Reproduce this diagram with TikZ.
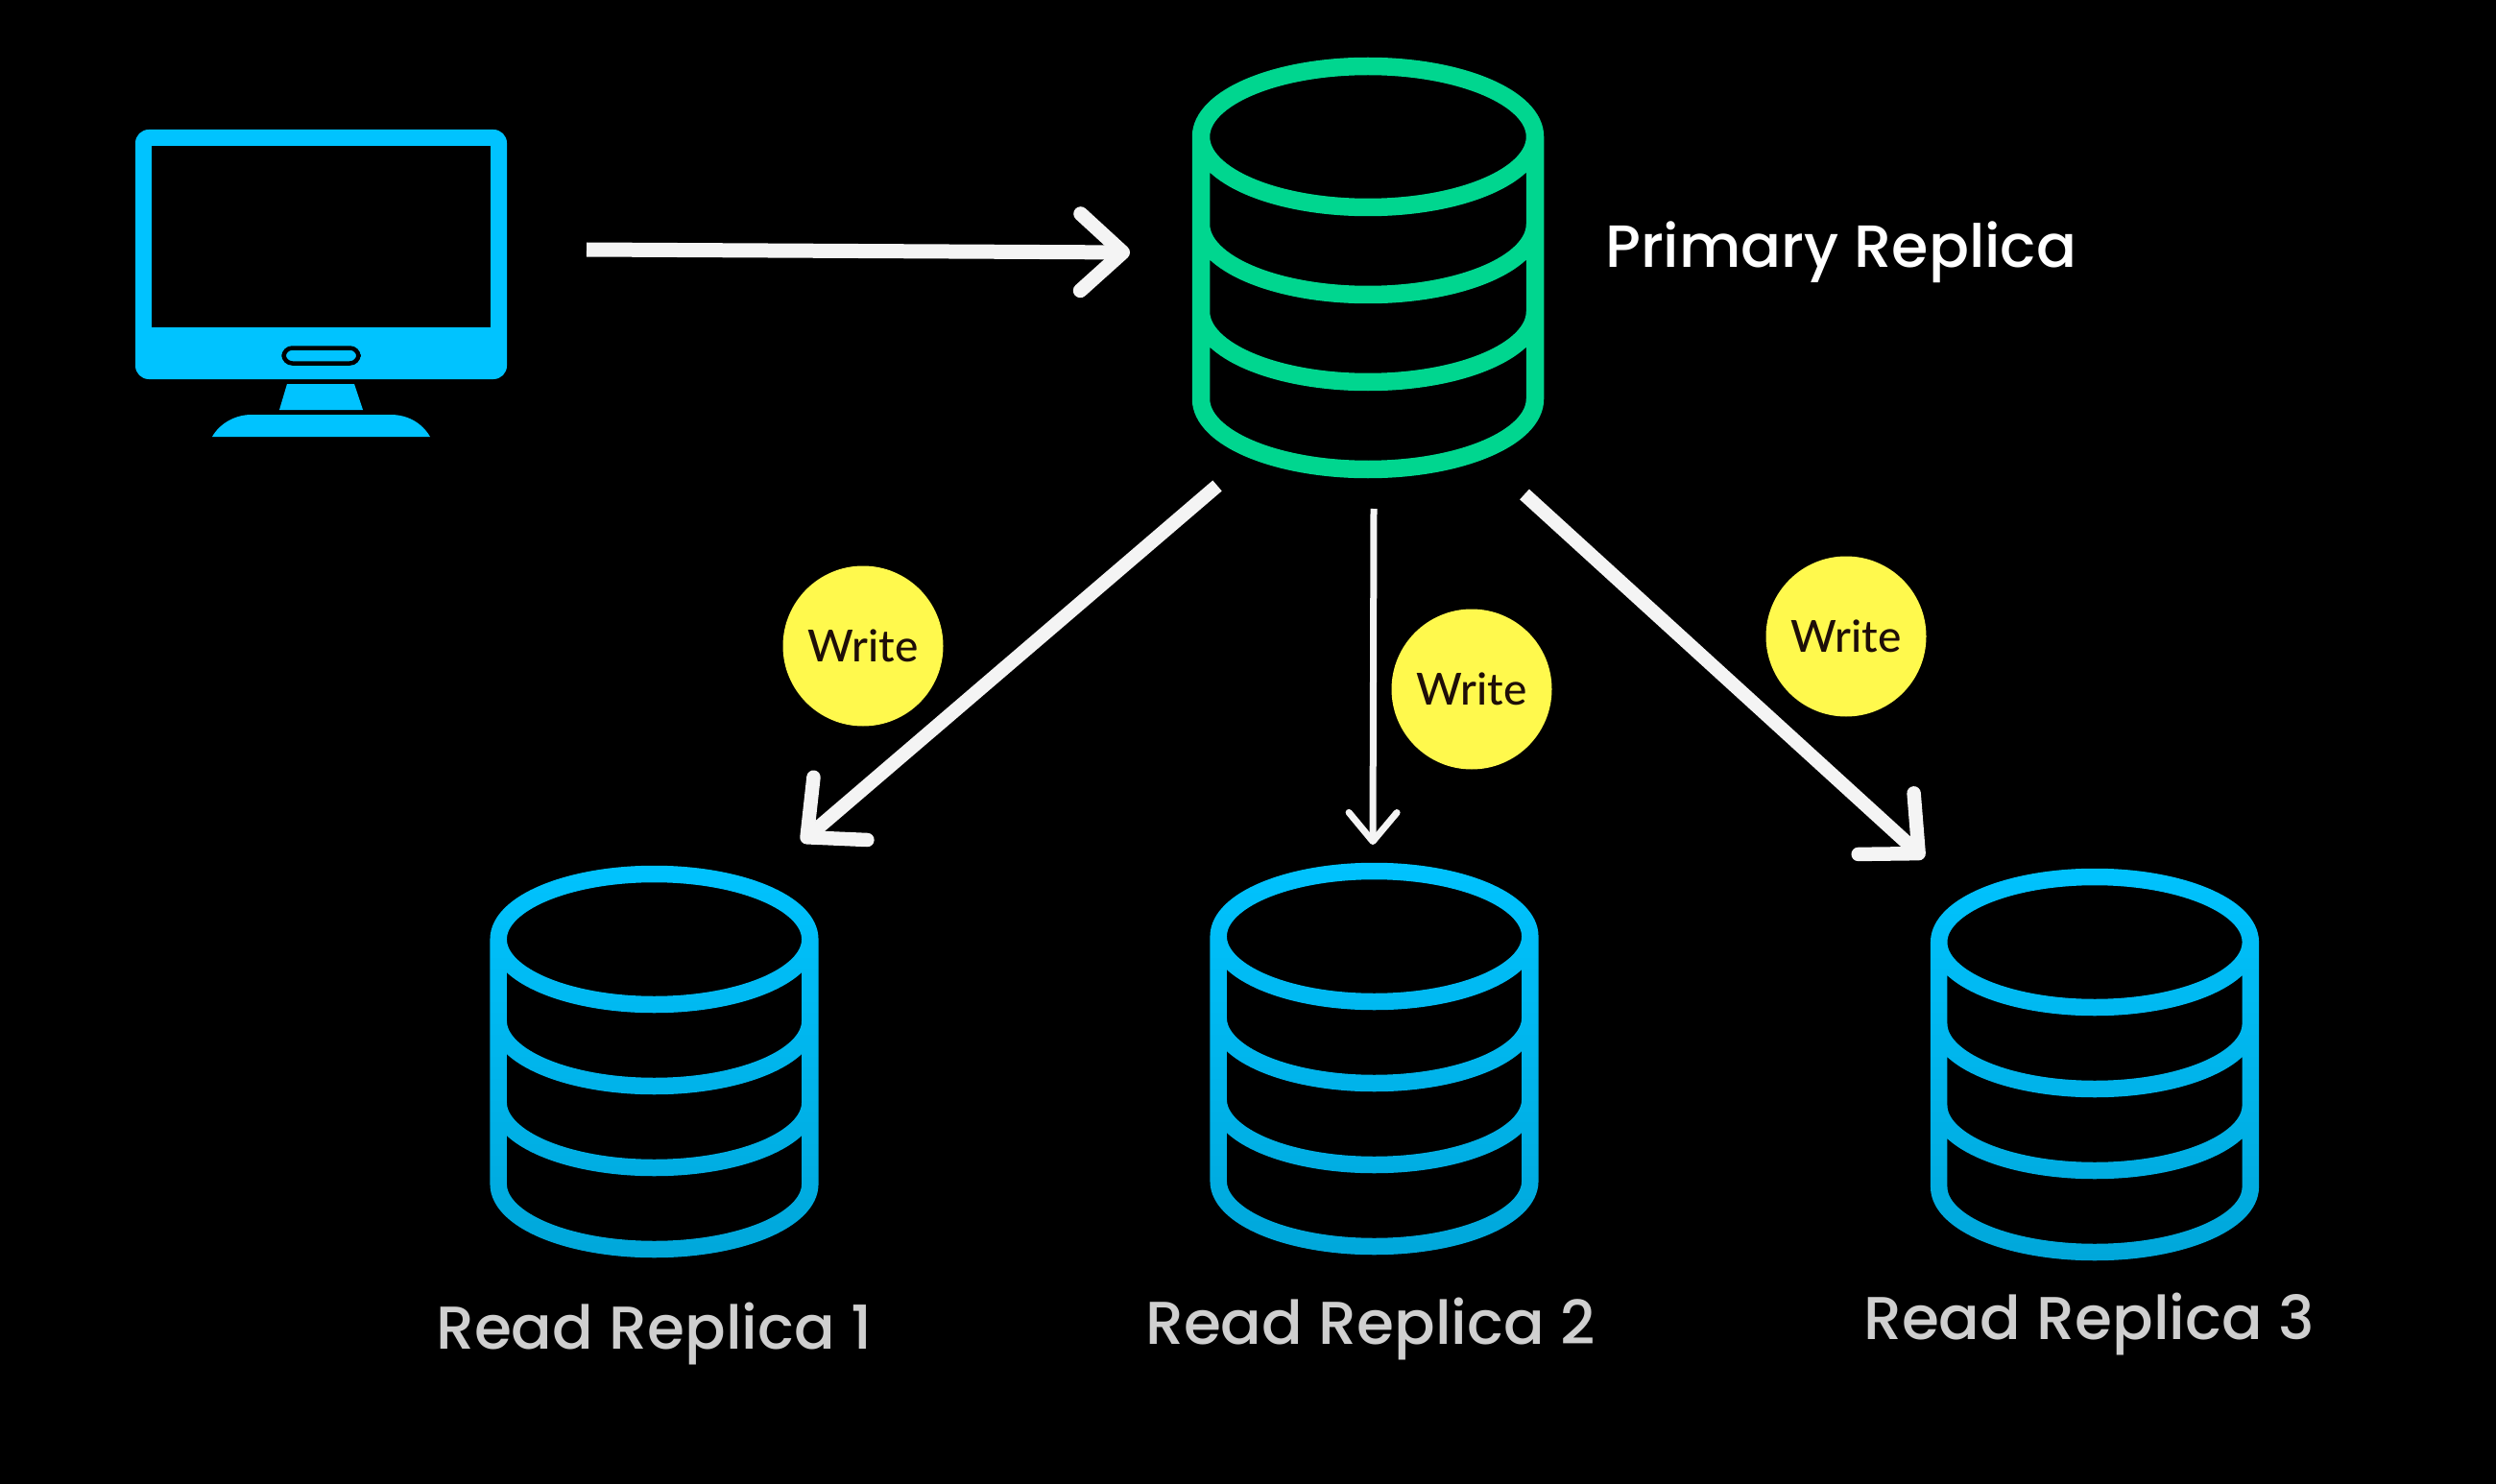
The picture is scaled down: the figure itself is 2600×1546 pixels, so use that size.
\documentclass[tikz,border=0pt]{standalone}
\usepackage{fontspec}
\setmainfont{Poppins}[UprightFont=* Medium]
\newfontfamily\writefont{Lato}[UprightFont=* Medium]
\usetikzlibrary{arrows.meta,fadings}
\definecolor{scrblue}{HTML}{00C3FF}
\definecolor{dbgreen}{HTML}{00D68F}
\definecolor{dbblue}{HTML}{00C4FF}
\definecolor{badge}{HTML}{FFF94D}
\definecolor{wire}{HTML}{F4F4F4}
\definecolor{inktext}{HTML}{1E0E08}
\definecolor{labelgrey}{HTML}{CFCFCF}
\tikzfading[name=dbfade, top color=transparent!100, bottom color=transparent!85]
\tikzset{
  x=1pt, y=-1pt,
  badgenode/.style={circle, fill=badge, minimum size=167pt, inner sep=0pt, text=inktext, font=\writefont\fontsize{46}{50}\selectfont},
  primarylabel/.style={anchor=base west, inner sep=0pt, text=white, font=\fontsize{62}{70}\selectfont},
  readlabel/.style={anchor=base west, inner sep=0pt, text=labelgrey, font=\fontsize{63}{70}\selectfont},
}
% cx, cy of top ellipse, rx, ry, step, line width, colour
\newcommand{\dbcyl}[7]{%
  \draw[#7, line width=#6pt, line join=round]
    (#1,#2) ellipse [x radius=#3, y radius=#4]
    (#1-#3,#2) -- (#1-#3,#2+3*#5)
      arc[start angle=180, end angle=0, x radius=#3, y radius=#4]
      -- (#1+#3,#2)
    (#1-#3,#2+#5) arc[start angle=180, end angle=0, x radius=#3, y radius=#4]
    (#1-#3,#2+2*#5) arc[start angle=180, end angle=0, x radius=#3, y radius=#4];
}
\begin{document}
\begin{tikzpicture}
\useasboundingbox (0,0) rectangle (2600,1546);
\fill[black] (0,0) rectangle (2600,1546);

% monitor
\fill[scrblue, rounded corners=14pt] (141,135) rectangle (528,395);
\fill[black] (158,152) rectangle (511,341);
\draw[black, line width=4.5pt, rounded corners=9pt] (295.5,362.5) rectangle (373.5,378.5);
\fill[scrblue] (299,400) -- (369,400) -- (378,427) -- (291,427) -- cycle;
\fill[scrblue] (221,455) .. controls (229,441) and (245,432) .. (262,432) -- (407,432)
   .. controls (425,432) and (440,441) .. (448,455) -- cycle;

% databases
\dbcyl{1425}{142.5}{174}{73.5}{91}{18.5}{dbgreen}
\dbcyl{681.5}{978.5}{162.3}{68}{85}{17.5}{dbblue}
\dbcyl{1431.5}{975.5}{162.3}{68}{85}{17.5}{dbblue}
\dbcyl{2182}{981.5}{162.3}{68}{85}{17.5}{dbblue}
\fill[black, path fading=dbfade] (500,890) rectangle (2370,1325);

% connector ends
\coordinate (clientout) at (611,260);
\coordinate (primaryin) at (1177,263);
\coordinate (primaryoutA) at (1268,506);
\coordinate (readinA) at (835,877);
\coordinate (primaryoutB) at (1431,530);
\coordinate (readinB) at (1430,880);
\coordinate (primaryoutC) at (1588,515);
\coordinate (readinC) at (2004,894);

% connectors
\draw[wire, line width=15pt, -{Straight Barb[round,length=44pt,width=80pt]}] (clientout) -- (primaryin);
\draw[wire, line width=14.5pt, -{Straight Barb[round,length=46pt,width=86pt]}] (primaryoutA) -- (readinA);
\draw[wire, line width=7pt, -{Straight Barb[round,length=30pt,width=50pt]}] (primaryoutB) -- (readinB);
\draw[wire, line width=14.5pt, -{Straight Barb[round,length=46pt,width=86pt]}] (primaryoutC) -- (readinC);

% badges
\node[badgenode] (writeA) at (899,673) {Write};
\node[badgenode] (writeB) at (1533,718) {Write};
\node[badgenode] (writeC) at (1923,663) {Write};

% labels
\node[primarylabel] (primary) at (1672,279) {Primary Replica};
\node[readlabel] (readA) at (454,1405) {Read Replica 1};
\node[readlabel] (readB) at (1193,1400) {Read Replica 2};
\node[readlabel] (readC) at (1941,1395) {Read Replica 3};
\end{tikzpicture}
\end{document}
